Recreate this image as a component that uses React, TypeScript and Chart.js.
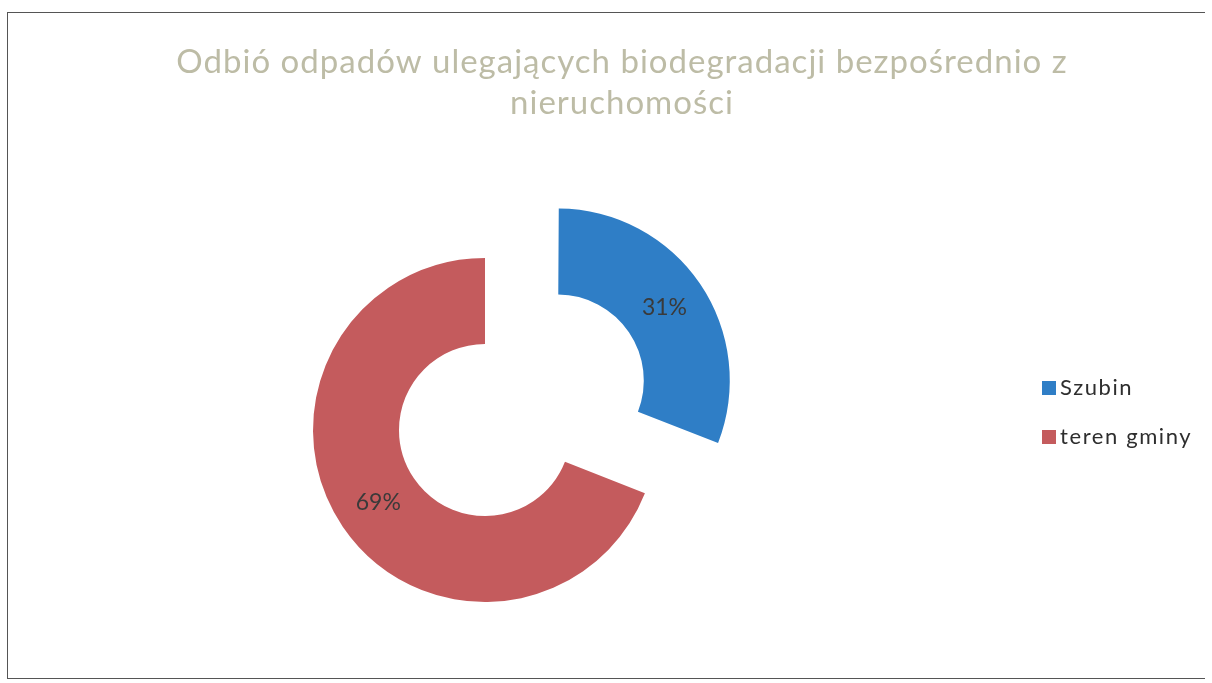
import React, { useEffect, useRef } from "react";
import { Chart, registerables } from "chart.js";

Chart.register(...registerables);

const categories = ["Szubin", "teren gminy"];
const shares = [31, 69];
const sliceColors = ["#2f7ec6", "#c45b5d"];
const sliceOffsets = [352, 0];
const titleLines = [
  "Odbió odpadów ulegających biodegradacji bezpośrednio z",
  "nieruchomości",
];

const W = 1212;
const H = 683;

// Chart.js 4 grows the radii of an offset arc a little; undo that so the
// exploded slice keeps the same ring size as the other one.
const keepRing = {
  id: "keepRing",
  afterDatasetsUpdate(chart: any) {
    const meta = chart.getDatasetMeta(0);
    meta.data.forEach((arc: any) => {
      const off = (arc.options.offset || 0) / 4;
      if (!off) return;
      const circ = arc.circumference;
      const fix = 1 - Math.sin(Math.min(Math.PI, circ || 0));
      const grow = off * fix;
      arc.outerRadius -= grow;
      arc.innerRadius -= grow;
    });
  },
};

const ringLabels = {
  id: "ringLabels",
  afterDatasetsDraw(chart: any) {
    const ctx = chart.ctx;
    const meta = chart.getDatasetMeta(0);
    const ds = chart.data.datasets[0].data as number[];
    const total = ds.reduce((a, b) => a + b, 0);
    ctx.save();
    ctx.font = "23px Lato";
    ctx.fillStyle = "#3a3a3a";
    ctx.textAlign = "center";
    ctx.textBaseline = "middle";
    meta.data.forEach((arc: any, i: number) => {
      const { x, y, startAngle, endAngle } = arc;
      const shift = (arc.options.offset || 0) / 4;
      const mid = (startAngle + endAngle) / 2;
      const r = shift + (chart.getDatasetMeta(0).controller.innerRadius + chart.getDatasetMeta(0).controller.outerRadius) / 2;
      ctx.fillText(
        Math.round((ds[i] / total) * 100) + "%",
        x + Math.cos(mid) * r,
        y + Math.sin(mid) * r
      );
    });
    ctx.restore();
  },
};

const titleAndLegend = {
  id: "titleAndLegend",
  afterDraw(chart: any) {
    const ctx = chart.ctx;
    ctx.save();
    ctx.font = "33px Lato";
    (ctx as any).letterSpacing = "1px";
    ctx.fillStyle = "#bdbca6";
    ctx.textAlign = "center";
    ctx.textBaseline = "middle";
    titleLines.forEach((line, i) => {
      ctx.fillText(line, 622, 62 + i * 41);
    });
    ctx.font = "22px Lato";
    (ctx as any).letterSpacing = "1.6px";
    ctx.textAlign = "left";
    chart.data.labels.forEach((lab: string, i: number) => {
      const cy = 388 + i * 49;
      ctx.fillStyle = chart.data.datasets[0].backgroundColor[i];
      ctx.fillRect(1042, cy - 7, 14, 14);
      ctx.fillStyle = "#2e2e2e";
      ctx.fillText(lab, 1060, cy);
    });
    ctx.restore();
  },
};

export default function App() {
  const ref = useRef<HTMLCanvasElement | null>(null);
  useEffect(() => {
    if (!ref.current) return;
    const chart = new Chart(ref.current, {
      type: "doughnut",
      data: {
        labels: categories,
        datasets: [
          {
            data: shares,
            backgroundColor: sliceColors,
            offset: sliceOffsets,
            borderWidth: 0,
          },
        ],
      },
      options: {
        responsive: false,
        animation: false,
        radius: 172,
        cutout: "50%",
        layout: { padding: { left: 0, right: 242, top: 177, bottom: 0 } },
        plugins: {
          legend: { display: false },
          title: { display: false },
          tooltip: { enabled: false },
        },
      } as any,
      plugins: [keepRing, ringLabels, titleAndLegend],
    });
    return () => chart.destroy();
  }, []);
  return (
    <div style={{ position: "absolute", left: 0, top: 0, width: W, height: H, background: "#fff" }}>
      <canvas ref={ref} width={W} height={H} style={{ display: "block", width: W, height: H }} />
      <div
        style={{
          position: "absolute",
          left: 7,
          top: 12,
          width: 1198,
          height: 667,
          borderLeft: "1px solid #555",
          borderTop: "1px solid #555",
          borderBottom: "1px solid #555",
          boxSizing: "border-box",
          pointerEvents: "none",
        }}
      />
    </div>
  );
}
